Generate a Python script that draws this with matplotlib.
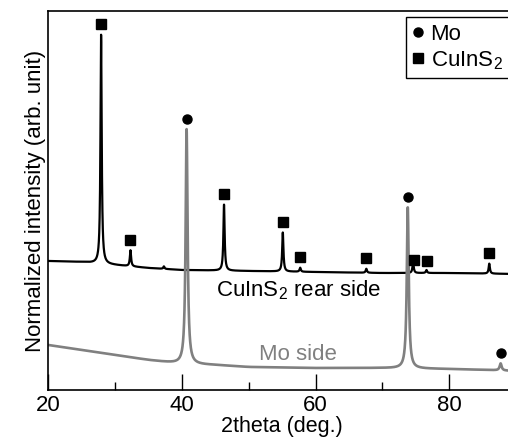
import matplotlib
matplotlib.use("Agg")
import matplotlib.pyplot as plt
from matplotlib.lines import Line2D
import numpy as np

plt.rcParams['font.family'] = ['Liberation Sans', 'DejaVu Sans']
plt.rcParams['mathtext.fontset'] = 'custom'
plt.rcParams['mathtext.rm'] = 'Liberation Sans'

# CuInS2 rear side: background anchors and peak list (2theta, height above background)
rear_bg_x = [20, 25, 30, 35, 40, 50, 60, 70, 80, 90]
rear_bg_y = [129, 128, 125, 122, 120, 119, 118, 117, 117, 116]
rear_peaks = [27.9, 32.3, 37.3, 46.3, 55.1, 57.7, 67.6, 74.6, 76.6, 86.0]
rear_heights = [229, 16, 2.5, 66, 39, 4, 4, 11, 3, 10]
rear_marks = [27.9, 32.3, 46.3, 55.1, 57.7, 67.6, 74.8, 76.7, 86.0]

# Mo side
mo_bg_x = [20, 30, 35, 40, 45, 50, 60, 70, 80, 86, 90]
mo_bg_y = [45, 35, 30, 26, 25, 23, 22, 22, 21, 20, 19]
mo_peaks = [40.7, 73.8, 87.7]
mo_heights = [235, 161, 7]
mo_marks = [40.7, 73.8, 87.7]

tt = np.linspace(20, 90, 3501)
fs = 16


def lorentz(x, x0, h, w):
    return h / (1 + ((x - x0) / (w / 2)) ** 2)


def pattern(bx, by, peaks, heights, w):
    y = np.interp(tt, bx, by)
    for p, h in zip(peaks, heights):
        y = y + lorentz(tt, p, h, w)
    return y


def top_at(bx, by, peaks, heights, w, xs):
    y = pattern(bx, by, peaks, heights, w)
    return np.interp(xs, tt, y)


rear = pattern(rear_bg_x, rear_bg_y, rear_peaks, rear_heights, 0.22)
mo = pattern(mo_bg_x, mo_bg_y, mo_peaks, mo_heights, 0.35)

fig = plt.figure(figsize=(5.08, 4.41), dpi=100)
ax = fig.add_axes([48.3 / 508, 51 / 441, (516 - 48.3) / 508, 379 / 441])

ax.plot(tt, rear, color='black', lw=1.6)
ax.plot(tt, mo, color='0.5', lw=1.9)

off = 10.5
ax.plot(rear_marks, top_at(rear_bg_x, rear_bg_y, rear_peaks, rear_heights, 0.22, rear_marks) + off,
        's', color='black', ms=7.2, ls='none')
ax.plot(mo_marks, top_at(mo_bg_x, mo_bg_y, mo_peaks, mo_heights, 0.35, mo_marks) + off,
        'o', color='black', ms=6.5, ls='none')

ax.text(57.4, 100, 'CuInS$_\\mathregular{2}$ rear side', fontsize=fs, ha='center', va='center')
ax.text(57.3, 35, 'Mo side', fontsize=fs, ha='center', va='center', color='0.5')

ax.set_xlim(20, 90)
ax.set_ylim(0, 379)
ax.set_xticks([20, 40, 60, 80])
ax.set_xticks([30, 50, 70], minor=True)
ax.set_yticks([])
ax.tick_params(axis='x', which='major', direction='in', length=11.5, width=1, labelsize=fs, pad=3.5)
ax.tick_params(axis='x', which='minor', direction='in', length=6, width=1)
for s in ax.spines.values():
    s.set_linewidth(1.2)

ax.set_xlabel('2theta (deg.)', fontsize=15.5, labelpad=0)
ax.set_ylabel('Normalized intensity (arb. unit)', fontsize=fs, labelpad=2)

handles = [Line2D([], [], marker='o', color='black', ls='none', ms=6.5),
           Line2D([], [], marker='s', color='black', ls='none', ms=7.2)]
leg = ax.legend(handles, ['Mo', 'CuInS$_\\mathregular{2}$'], loc='upper left',
                bbox_to_anchor=(0.765, 0.984), fontsize=fs, frameon=True, fancybox=False,
                framealpha=1, edgecolor='black', borderaxespad=0, borderpad=0.3,
                handlelength=0.5, handletextpad=0.3, labelspacing=0.2)
leg.get_frame().set_linewidth(1.0)

fig.savefig('out.png', dpi=100)
